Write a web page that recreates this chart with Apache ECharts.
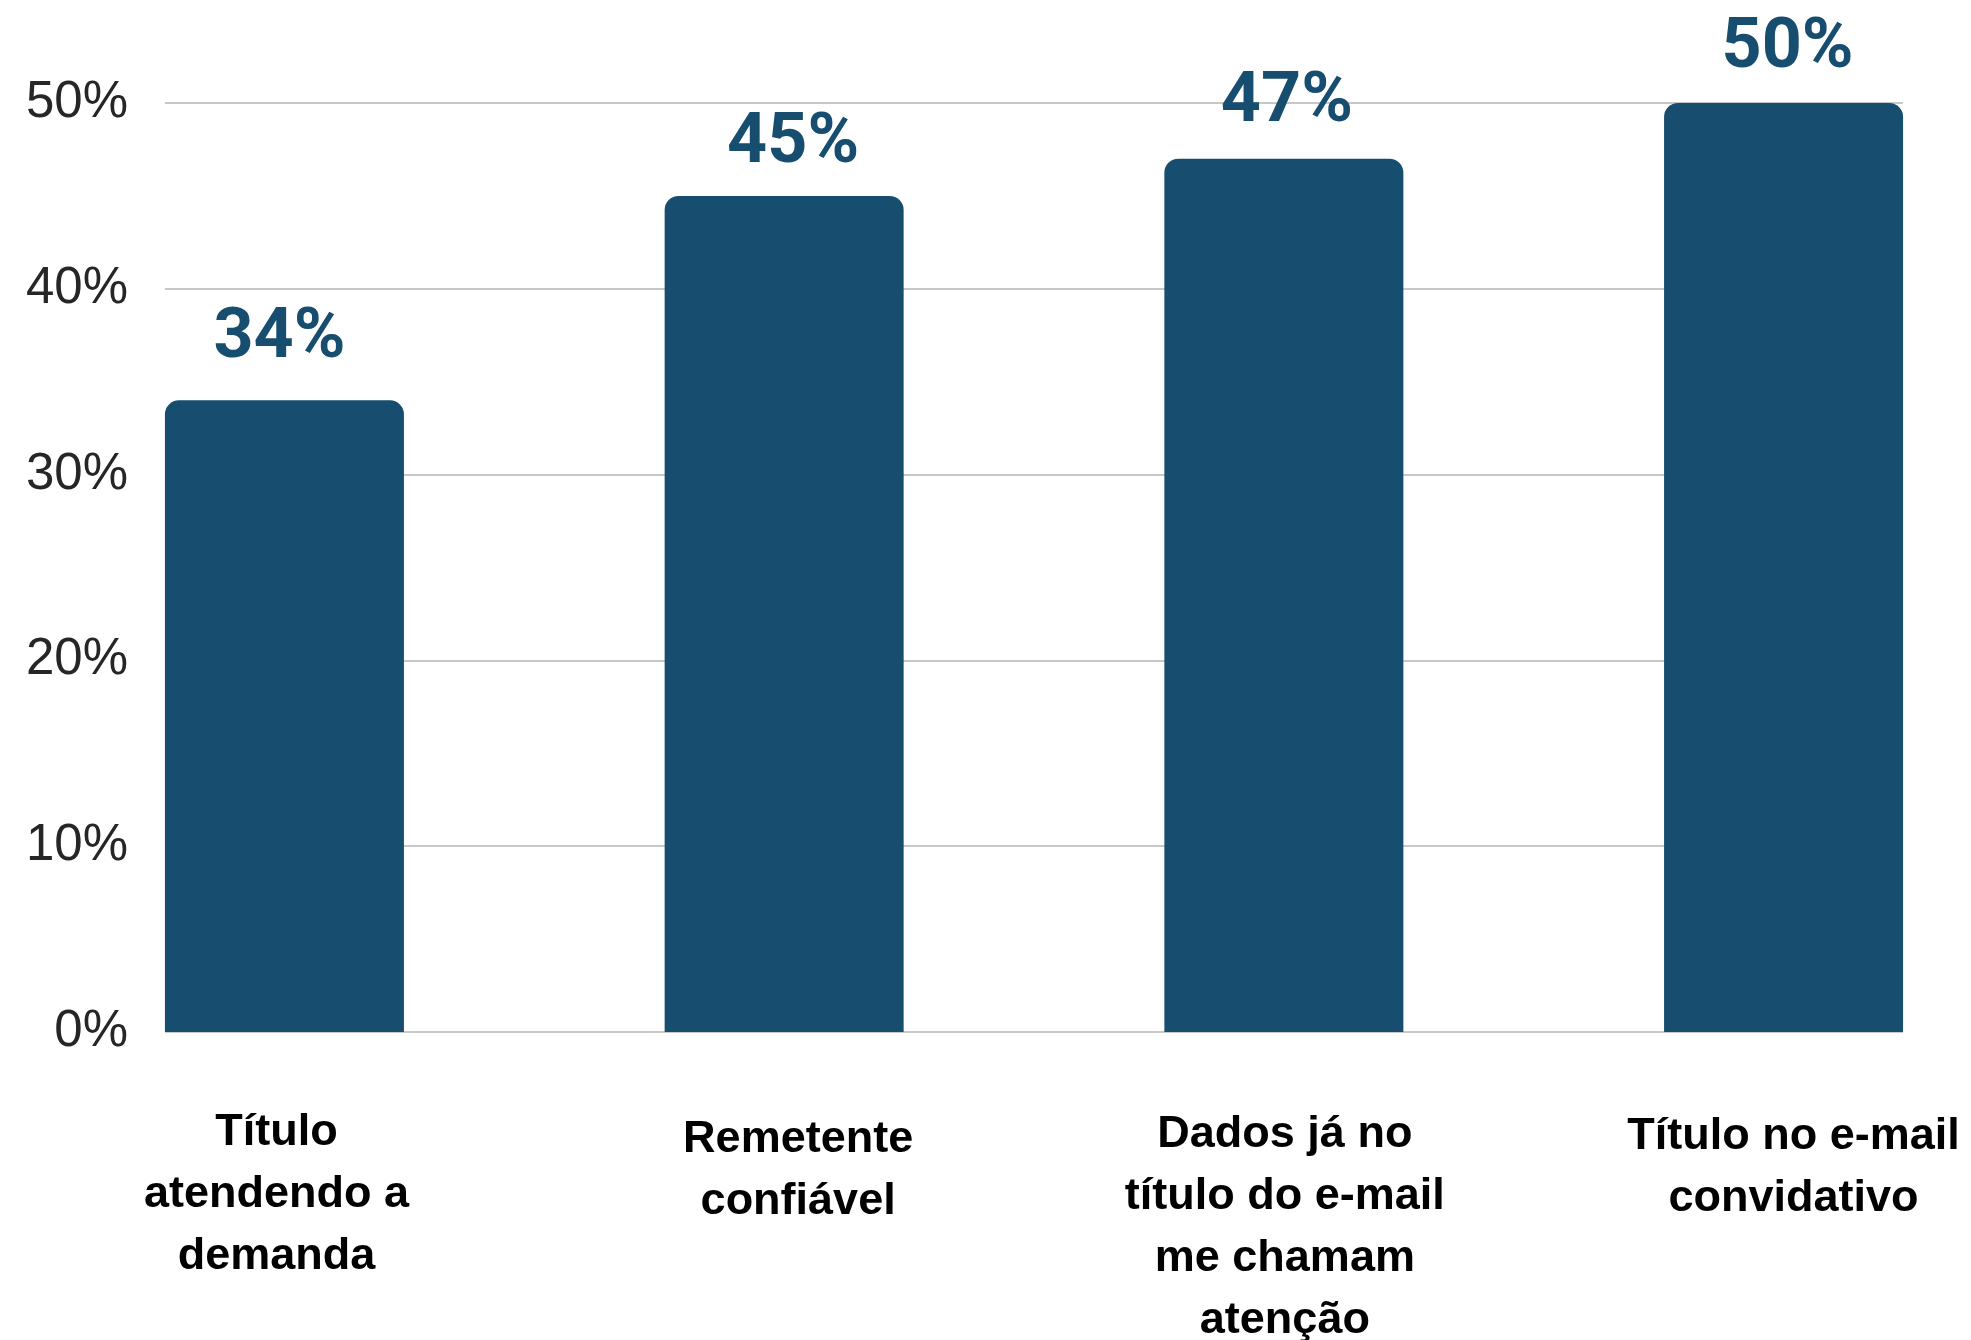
<!DOCTYPE html>
<html>
<head>
<meta charset="utf-8">
<script src="https://cdn.jsdelivr.net/npm/echarts@6/dist/echarts.min.js"></script>
<style>
  html, body { margin: 0; padding: 0; background: #ffffff; }
  #chart { width: 1971px; height: 1340px; }
</style>
</head>
<body>
<div id="chart"></div>
<script>
// Survey answers: what makes an e-mail worth opening
const categories = [
  'Título\natendendo a\ndemanda',
  'Remetente\nconfiável',
  'Dados já no\ntítulo do e-mail\nme chamam\natenção',
  'Título no e-mail\nconvidativo'
];
const shares = [34, 45, 47, 50];          // percent of respondents
const yTicks = [0, 10, 20, 30, 40, 50];   // percent tick values

// small hand placement nudges for the text blocks, [dx, dy] in px
const categoryNudge = [[-8, 6], [14, 13], [1, 8], [10, 10]];
const valueNudge = [[-5, -6], [9, 4], [3, 0], [4, 1]];

const BAR = '#174d6e';
const half = 0.239; // half of a bar, in category units
const xMin = -half;
const xMax = categories.length - 1 + half;

const chart = echarts.init(document.getElementById('chart'), null, { renderer: 'canvas' });

// one label-only x axis per category (all on the bottom edge) so each text block can be placed on its own
const xAxes = categories.map((name, i) => {
  const [dx, dy] = categoryNudge[i];
  return {
    type: 'value',
    position: 'bottom',
    offset: 0,
    min: xMin,
    max: xMax,
    axisLine: { show: false },
    axisTick: { show: false },
    splitLine: { show: false },
    axisLabel: {
      customValues: [i],
      formatter: () => name,
      margin: 64 + dy,
      padding: dx >= 0 ? [0, 0, 0, 2 * dx] : [0, -2 * dx, 0, 0],
      fontFamily: '"Liberation Sans", Arial, sans-serif',
      fontWeight: 'bold',
      fontSize: 45,
      lineHeight: 62,
      color: '#000000',
      align: 'center'
    }
  };
});

chart.setOption({
  backgroundColor: '#ffffff',
  animation: false,
  grid: {
    left: 165, right: 68, top: 103, bottom: 308,
    containLabel: false,
    outerBoundsMode: 'none'
  },
  xAxis: xAxes,
  yAxis: {
    type: 'value',
    min: yTicks[0],
    max: yTicks[yTicks.length - 1],
    interval: yTicks[1] - yTicks[0],
    axisLine: { show: false },
    axisTick: { show: false },
    splitLine: { lineStyle: { color: '#c8c8c8', width: 2 } },
    axisLabel: {
      formatter: '{value}%',
      margin: 37,
      fontFamily: '"Liberation Sans", Arial, sans-serif',
      fontSize: 51,
      color: '#262626'
    }
  },
  series: [{
    type: 'bar',
    xAxisIndex: 0,
    data: shares.map((v, i) => ({
      value: [i, v],
      label: { offset: valueNudge[i] }
    })),
    barWidth: 239,
    itemStyle: { color: BAR, borderRadius: [14, 14, 0, 0] },
    label: {
      show: true,
      position: 'top',
      distance: 20,
      formatter: p => p.value[1] + '%',
      fontFamily: 'Roboto, "Liberation Sans", sans-serif',
      fontWeight: 'bold',
      fontSize: 70,
      color: BAR
    }
  }]
});
</script>
</body>
</html>
